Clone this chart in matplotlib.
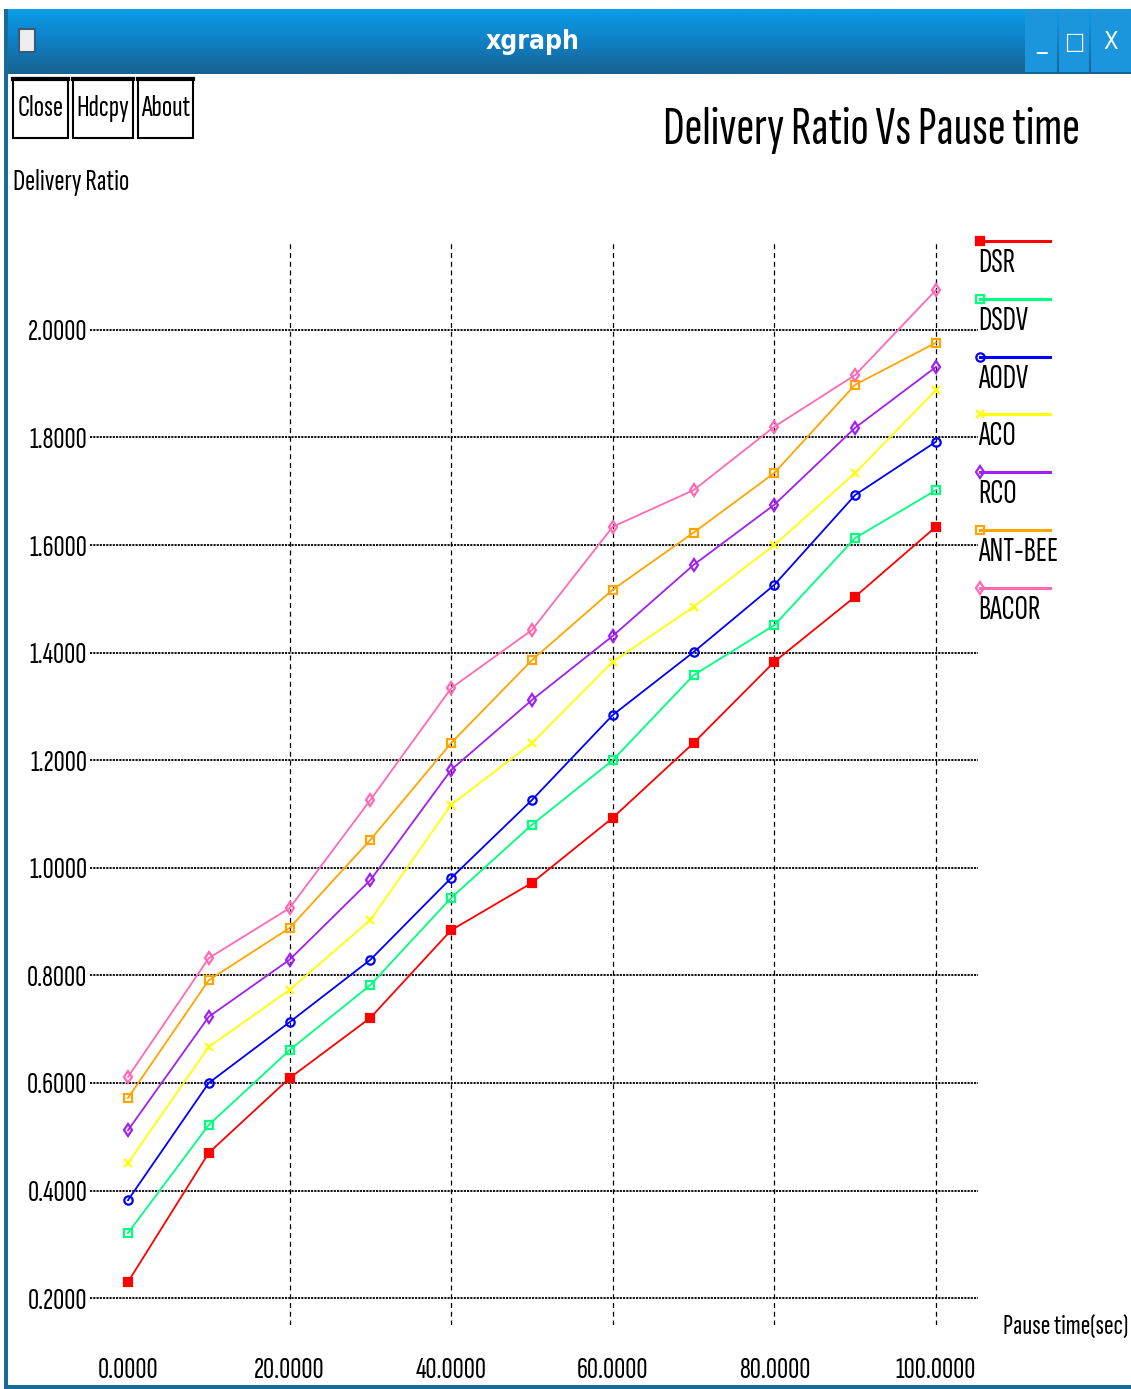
import numpy as np
import matplotlib
matplotlib.use("Agg")
import matplotlib.pyplot as plt
from matplotlib.patches import Rectangle
from matplotlib.lines import Line2D

plt.rcParams['font.family'] = ['Sofia Sans Extra Condensed', 'DejaVu Sans']

pause_time = [0, 10, 20, 30, 40, 50, 60, 70, 80, 90, 100]
dsr = [0.230, 0.470, 0.609, 0.721, 0.884, 0.972, 1.093, 1.232, 1.383, 1.504, 1.634]
dsdv = [0.321, 0.522, 0.661, 0.782, 0.944, 1.080, 1.200, 1.358, 1.451, 1.613, 1.702]
aodv = [0.382, 0.600, 0.713, 0.829, 0.981, 1.126, 1.284, 1.401, 1.526, 1.693, 1.792]
aco = [0.451, 0.667, 0.773, 0.903, 1.117, 1.232, 1.383, 1.485, 1.600, 1.734, 1.888]
rco = [0.512, 0.723, 0.829, 0.977, 1.182, 1.312, 1.431, 1.563, 1.675, 1.818, 1.931]
ant_bee = [0.572, 0.791, 0.888, 1.052, 1.232, 1.386, 1.517, 1.623, 1.734, 1.898, 1.976]
bacor = [0.611, 0.832, 0.925, 1.126, 1.334, 1.442, 1.634, 1.702, 1.820, 1.916, 2.074]

names = ['DSR', 'DSDV', 'AODV', 'ACO', 'RCO', 'ANT-BEE', 'BACOR']
series = [dsr, dsdv, aodv, aco, rco, ant_bee, bacor]
colors = ['#ff0000', '#00ff7f', '#0000ff', '#ffff00', '#a020f0', '#ffa500', '#ff69b4']
markers = ['s', 's', 'o', 'x', 'd', 's', 'd']
filled = [True, False, False, True, False, False, False]

y_ticks = [0.2, 0.4, 0.6, 0.8, 1.0, 1.2, 1.4, 1.6, 1.8, 2.0]
x_ticks = [0, 20, 40, 60, 80, 100]

W, H = 1131, 1389
fig = plt.figure(figsize=(W / 100, H / 100), dpi=100)
fig.patch.set_facecolor('white')


def fx(x):
    return x / W


def fy(y):
    return 1 - y / H


# ---- window chrome ----
bar = fig.add_axes([fx(4), fy(74), 1 - fx(4), (74 - 9) / H])
grad = np.linspace(0, 1, 64).reshape(-1, 1)
bar.imshow(grad, aspect='auto', cmap=matplotlib.colors.LinearSegmentedColormap.from_list(
    'tb', ['#0a9de9', '#0f80c4', '#186291']), extent=[0, 1, 0, 1])
bar.axis('off')
fig.text(fx(533), fy(42), 'xgraph', color='white', fontsize=19, fontweight='bold',
         stretch='condensed', family='DejaVu Sans', ha='center', va='center')
fig.add_artist(Rectangle((fx(19), fy(52)), fx(16), 23 / H, transform=fig.transFigure,
                         facecolor='#eeeeee', edgecolor='#3a5a7a', lw=1.5))
for x0, x1, s in [(1025, 1057, '_'), (1059, 1089, '\u25a1'), (1091, 1131, 'X')]:
    fig.add_artist(Rectangle((fx(x0), fy(72)), fx(x1 - x0), 62 / H, transform=fig.transFigure,
                             facecolor='#1b96dc', edgecolor='none'))
    fig.text(fx((x0 + x1) / 2), fy(42), s, color='white', fontsize=17, ha='center',
             va='center', stretch='condensed', family='DejaVu Sans')
fig.add_artist(Rectangle((fx(4), 0), fx(4), fy(9), transform=fig.transFigure,
                         facecolor='#1a6a98', edgecolor='none'))
fig.add_artist(Rectangle((fx(4), 0), 1, 4 / H, transform=fig.transFigure,
                         facecolor='#1a6a98', edgecolor='none'))

# buttons
for x0, x1, s in [(13, 68, 'Close'), (73, 133, 'Hdcpy'), (138, 193, 'About')]:
    fig.add_artist(Rectangle((fx(x0), fy(138)), fx(x1 - x0), 60 / H, transform=fig.transFigure,
                             facecolor='white', edgecolor='black', lw=1.5))
    fig.add_artist(Line2D([fx(x0), fx(x1)], [fy(79), fy(79)], transform=fig.transFigure,
                          color='black', lw=3))
    fig.text(fx((x0 + x1) / 2), fy(108), s, fontsize=22, ha='center', va='center')

fig.text(fx(1080), fy(131), 'Delivery Ratio Vs Pause time', fontsize=39,
         ha='right', va='center')
fig.text(fx(13), fy(183), 'Delivery Ratio', fontsize=22, ha='left', va='center')
fig.text(fx(1003), fy(1328), 'Pause time(sec)', fontsize=21, ha='left', va='center')

# ---- plot area ----
ax = fig.add_axes([fx(90), fy(1325), fx(978 - 90), (1325 - 240) / H])
ax.set_xlim(-4.70, 105.2)
ax.set_ylim(0.150, 2.167)
for sp in ax.spines.values():
    sp.set_visible(False)
ax.set_facecolor('white')

for v in y_ticks:
    ax.axhline(v, color='black', lw=1.3, ls=(0, (1.2, 0.6)), zorder=1)
for v in x_ticks[1:]:
    ax.axvline(v, color='black', lw=0.9, ls=(0, (4, 3)), zorder=1)

for vals, c, m, f in zip(series, colors, markers, filled):
    ax.plot(pause_time, vals, color=c, lw=1.3, marker=m, ms=6,
            mfc=c if f else 'none', mec=c, mew=1.6, zorder=3)

ax.set_xticks(x_ticks)
ax.set_xticklabels([f'{v:.4f}' for v in x_ticks])
ax.set_yticks(y_ticks)
ax.set_yticklabels([f'{v:.4f}' for v in y_ticks])
ax.tick_params(length=0, labelsize=22)
ax.tick_params(axis='x', pad=23)
ax.tick_params(axis='y', pad=2)

# legend, xgraph style (line above name)
for i, (n, c, m, f) in enumerate(zip(names, colors, markers, filled)):
    yl = 241 + i * 57.8
    fig.add_artist(Line2D([fx(980), fx(1050)], [fy(yl), fy(yl)], transform=fig.transFigure,
                          color=c, lw=2.2))
    fig.add_artist(Line2D([fx(980)], [fy(yl)], transform=fig.transFigure, color=c,
                          marker=m, ms=6, mfc=c if f else 'none', mec=c, mew=1.6))
    fig.text(fx(978), fy(yl + 7), n, fontsize=24, ha='left', va='top')

fig.savefig('out.png', dpi=100)
